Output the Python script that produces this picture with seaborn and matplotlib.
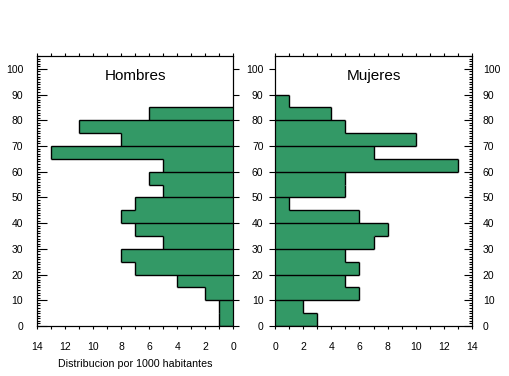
import matplotlib
matplotlib.use("Agg")
import matplotlib.pyplot as plt
from matplotlib.ticker import MultipleLocator
import seaborn as sns
import pandas as pd

# ---- data ----
edad_inicio_h = [0, 5, 10, 15, 20, 25, 30, 35, 40, 45, 50, 55, 60, 65, 70, 75, 80]
hombres = [1, 1, 2, 4, 7, 8, 5, 7, 8, 7, 5, 6, 5, 13, 8, 11, 6]
edad_inicio_m = [0, 5, 10, 15, 20, 25, 30, 35, 40, 45, 50, 55, 60, 65, 70, 75, 80, 85]
mujeres = [3, 2, 6, 5, 6, 5, 7, 8, 6, 1, 5, 5, 13, 7, 10, 5, 4, 1]
ancho_grupo = 5
titulos = ["Hombres", "Mujeres"]
xlabel = "Distribucion por 1000 habitantes"
yticks = [0, 10, 20, 30, 40, 50, 60, 70, 80, 90, 100]
xticks = [0, 2, 4, 6, 8, 10, 12, 14]

sns.set_style("ticks")
plt.rcParams["font.family"] = ["Liberation Sans", "DejaVu Sans"]
plt.rcParams["axes.linewidth"] = 0.8
for k in ["text.color", "axes.labelcolor", "xtick.color", "ytick.color",
          "axes.edgecolor", "xtick.labelcolor", "ytick.labelcolor"]:
    plt.rcParams[k] = "black"

verde = "#339966"
W, H = 509, 376
fig = plt.figure(figsize=(W / 100, H / 100), dpi=100)
ax1 = fig.add_axes([37 / W, 50 / H, 196.3 / W, 270 / H])
ax2 = fig.add_axes([275.3 / W, 50 / H, 196.4 / W, 270 / H])


def dibujar(ax, inicios, valores):
    edges = inicios + [inicios[-1] + ancho_grupo]
    df = pd.DataFrame({"edad": [e + ancho_grupo / 2 for e in inicios], "valor": valores})
    sns.histplot(data=df, y="edad", weights="valor", bins=edges, ax=ax,
                 color=verde, alpha=1, linewidth=0, edgecolor="none")
    ax.vlines(valores, edges[:-1], edges[1:], color="black", lw=1)
    ys, x0s, x1s = [], [], []
    n = len(valores)
    for i, b in enumerate(edges):
        abajo = valores[i - 1] if i > 0 else 0
        arriba = valores[i] if i < n else 0
        ys.append(b)
        if b % 10 == 0:
            x0s.append(0)
        else:
            x0s.append(min(abajo, arriba))
        x1s.append(max(abajo, arriba))
    ax.hlines(ys, x0s, x1s, color="black", lw=1)
    ax.set_ylim(0, 105)
    ax.set_ylabel("")
    ax.set_xlabel("")


dibujar(ax1, edad_inicio_h, hombres)
dibujar(ax2, edad_inicio_m, mujeres)
ax1.set_xlim(14, 0)
ax2.set_xlim(0, 14)

for ax, t in zip([ax1, ax2], titulos):
    ax.text(7, 97.3, t, ha="center", va="center", fontsize=11, color="black")
    ax.set_xticks(xticks)
    ax.xaxis.set_minor_locator(MultipleLocator(1))
    ax.tick_params(axis="x", which="both", direction="out", length=2.5, width=0.8,
                   top=True, bottom=True, labelsize=7.5, pad=9)
    ax.set_yticks(yticks)
    for s in ax.spines.values():
        s.set_visible(True)
        s.set_linewidth(0.8)
        s.set_color("black")

# left panel: inward ticks on left with labels, outward major ticks on right
ax1.yaxis.set_minor_locator(MultipleLocator(1))
ax1.tick_params(axis="y", which="major", direction="in", length=7, width=0.8,
                left=True, right=False, labelsize=7.5, pad=10)
ax1.tick_params(axis="y", which="minor", direction="in", length=2.2, width=0.8,
                left=True, right=False)
t1 = ax1.twinx()
t1.set_ylim(ax1.get_ylim())
t1.set_yticks(yticks)
t1.tick_params(axis="y", direction="out", length=4.5, width=0.8, labelright=False)

# right panel: outward major ticks on left with labels, inward ticks + labels on right
ax2.tick_params(axis="y", which="major", direction="out", length=4.5, width=0.8,
                left=True, right=False, labelsize=7.5, pad=4)
t2 = ax2.twinx()
t2.set_ylim(ax2.get_ylim())
t2.set_yticks(yticks)
t2.yaxis.set_minor_locator(MultipleLocator(1))
t2.tick_params(axis="y", which="major", direction="in", length=6, width=0.8,
               labelsize=7.5, pad=8)
t2.tick_params(axis="y", which="minor", direction="in", length=2.2, width=0.8)

ax1.set_xlabel(xlabel, fontsize=7.7, labelpad=5, color="black")

fig.savefig("out.png", dpi=100)
